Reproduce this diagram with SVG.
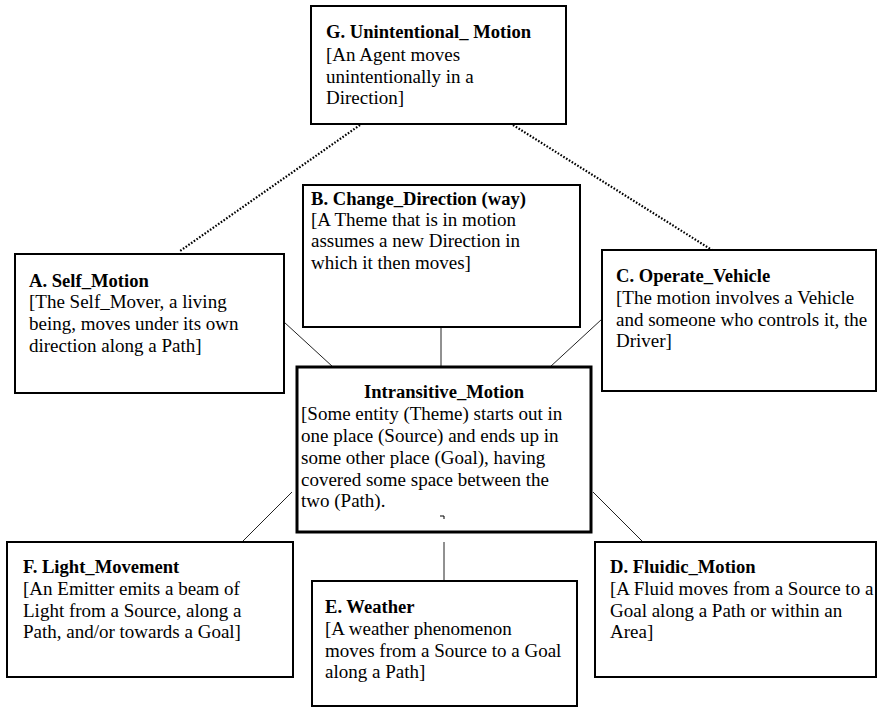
<svg xmlns="http://www.w3.org/2000/svg" width="878" height="707" viewBox="0 0 878 707">
<style>
.box{fill:#fff;stroke:#000;stroke-width:2}
.main{fill:#fff;stroke:#000;stroke-width:3}
.t{font-family:"Liberation Serif","Times New Roman",serif;font-size:19px;fill:#000}
.b{font-weight:bold;font-size:18.6px}
.ln{stroke:#222;stroke-width:1;fill:none}
.dot{stroke:#000;stroke-width:2.2;stroke-dasharray:1.6 1.7;fill:none}
</style>
<rect width="878" height="707" fill="#fff"/>
<g id="connectors">
<line class="dot" x1="360" y1="125" x2="180" y2="251"/>
<line class="dot" x1="513" y1="125" x2="712" y2="250"/>
<line class="ln" x1="284" y1="322" x2="333" y2="367"/>
<line class="ln" x1="441" y1="327" x2="441" y2="367"/>
<line class="ln" x1="602" y1="319" x2="550" y2="367"/>
<line class="ln" x1="292" y1="492" x2="242" y2="542"/>
<line class="ln" x1="444" y1="542" x2="444" y2="581"/>
<line class="ln" x1="593" y1="492" x2="643" y2="542"/>
</g>
<g id="G">
<rect class="box" x="311" y="6" width="255" height="118"/>
<text class="t"><tspan class="b" x="326" y="38">G. Unintentional_ Motion</tspan><tspan x="326" y="61">[An Agent moves</tspan><tspan x="326" y="83">unintentionally in a</tspan><tspan x="326" y="104">Direction]</tspan></text>
</g>
<g id="B">
<rect class="box" x="303" y="185" width="277" height="142"/>
<text class="t"><tspan class="b" x="311" y="205">B. Change_Direction (way)</tspan><tspan x="311" y="226">[A Theme that is in motion</tspan><tspan x="311" y="247">assumes a new Direction in</tspan><tspan x="311" y="269">which it then moves]</tspan></text>
</g>
<g id="A">
<rect class="box" x="15" y="254" width="269" height="139"/>
<text class="t"><tspan class="b" x="29" y="287">A. Self_Motion</tspan><tspan x="29" y="308">[The Self_Mover, a living</tspan><tspan x="29" y="330">being, moves under its own</tspan><tspan x="29" y="352">direction along a Path]</tspan></text>
</g>
<g id="C">
<rect class="box" x="602" y="250" width="274" height="141"/>
<text class="t"><tspan class="b" x="616" y="282">C. Operate_Vehicle</tspan><tspan x="616" y="304">[The motion involves a Vehicle</tspan><tspan x="616" y="326">and someone who controls it, the</tspan><tspan x="616" y="347">Driver]</tspan></text>
</g>
<g id="Intransitive">
<rect class="main" x="297" y="367" width="294" height="165"/>
<text class="t b" x="444" y="398" text-anchor="middle">Intransitive_Motion</text>
<text class="t"><tspan x="301" y="420">[Some entity (Theme) starts out in</tspan><tspan x="301" y="442">one place (Source) and ends up in</tspan><tspan x="301" y="464">some other place (Goal), having</tspan><tspan x="301" y="486">covered some space between the</tspan><tspan x="301" y="507">two (Path).</tspan></text>
<polyline points="440,516 444,516 444,519" fill="none" stroke="#000" stroke-width="1"/>
</g>
<g id="F">
<rect class="box" x="7" y="542" width="286" height="135"/>
<text class="t"><tspan class="b" x="23" y="573">F. Light_Movement</tspan><tspan x="23" y="595">[An Emitter emits a beam of</tspan><tspan x="23" y="617">Light from a Source, along a</tspan><tspan x="23" y="638">Path, and/or towards a Goal]</tspan></text>
</g>
<g id="E">
<rect class="box" x="312" y="581" width="265" height="125"/>
<text class="t"><tspan class="b" x="325" y="613">E. Weather</tspan><tspan x="325" y="635">[A weather phenomenon</tspan><tspan x="325" y="657">moves from a Source to a Goal</tspan><tspan x="325" y="678">along a Path]</tspan></text>
</g>
<g id="D">
<rect class="box" x="595" y="542" width="281" height="135"/>
<text class="t"><tspan class="b" x="610" y="573">D. Fluidic_Motion</tspan><tspan x="610" y="595">[A Fluid moves from a Source to a</tspan><tspan x="610" y="617">Goal along a Path or within an</tspan><tspan x="610" y="638">Area]</tspan></text>
</g>
</svg>
